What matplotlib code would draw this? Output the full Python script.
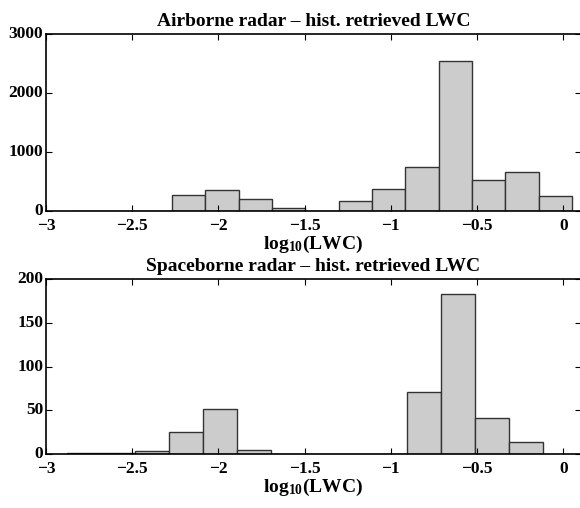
import matplotlib
matplotlib.use("Agg")
import matplotlib.pyplot as plt
import matplotlib.transforms as mtransforms
import numpy as np

# airborne radar histogram: 15 equal bins
air_first_edge = -2.851
air_bin_width = 0.1935
air_counts = [0, 0, 0, 281, 354, 213, 56, 0, 169, 376, 742, 2551, 534, 663, 258]

# spaceborne radar histogram: 14 equal bins
space_first_edge = -2.880
space_bin_width = 0.1975
space_counts = [1, 1, 4, 25, 52, 5, 0, 0, 0, 0, 71, 183, 41, 14]

xticks = [-3, -2.5, -2, -1.5, -1, -0.5, 0]
xtick_labels = ["\u22123", "\u22122.5", "\u22122", "\u22121.5", "\u22121", "\u22120.5", "0"]
air_yticks = [0, 1000, 2000, 3000]
space_yticks = [0, 50, 100, 150, 200]

plt.rcParams["font.family"] = ["Liberation Serif", "DejaVu Serif"]
plt.rcParams["font.weight"] = "bold"
plt.rcParams["mathtext.fontset"] = "custom"
plt.rcParams["mathtext.rm"] = "Liberation Serif:bold"
plt.rcParams["mathtext.it"] = "Liberation Serif:bold"
plt.rcParams["mathtext.bf"] = "Liberation Serif:bold"

fig = plt.figure(figsize=(5.8, 5.08), dpi=100)
ax1 = fig.add_axes([0.0793, 0.584, 0.9216, 0.349])
ax2 = fig.add_axes([0.0793, 0.1057, 0.9216, 0.345])


def draw_hist(ax, first_edge, width, counts, yticks, title):
    edges = first_edge + width * np.arange(len(counts))
    ax.bar(edges, counts, width=width, align="edge", color="#cccccc",
           edgecolor="#333333", linewidth=1.0)
    ax.set_xlim(-3, 0.1)
    ax.set_ylim(yticks[0], yticks[-1])
    ax.set_xticks(xticks)
    ax.set_xticklabels(xtick_labels)
    ax.set_yticks(yticks)
    ax.tick_params(direction="in", top=True, right=True, length=4,
                   width=0.8, labelsize=12.5)
    ax.tick_params(axis="x", pad=5)
    ax.tick_params(axis="y", pad=2)
    # nudge y labels up a little so "0" clears the "-3" below it
    shift = mtransforms.ScaledTranslation(0, 1.5 / 72, fig.dpi_scale_trans)
    for lab in ax.get_yticklabels():
        lab.set_transform(lab.get_transform() + shift)
    for s in ax.spines.values():
        s.set_linewidth(1.2)
    ax.set_title(title, fontsize=14, fontweight="bold", pad=6)
    ax.set_xlabel(r"log$_{10}$(LWC)", fontsize=14, fontweight="bold",
                  labelpad=0)


draw_hist(ax1, air_first_edge, air_bin_width, air_counts, air_yticks,
          "Airborne radar \u2013 hist. retrieved LWC")
draw_hist(ax2, space_first_edge, space_bin_width, space_counts, space_yticks,
          "Spaceborne radar \u2013 hist. retrieved LWC")

fig.savefig("out.png", dpi=100)
